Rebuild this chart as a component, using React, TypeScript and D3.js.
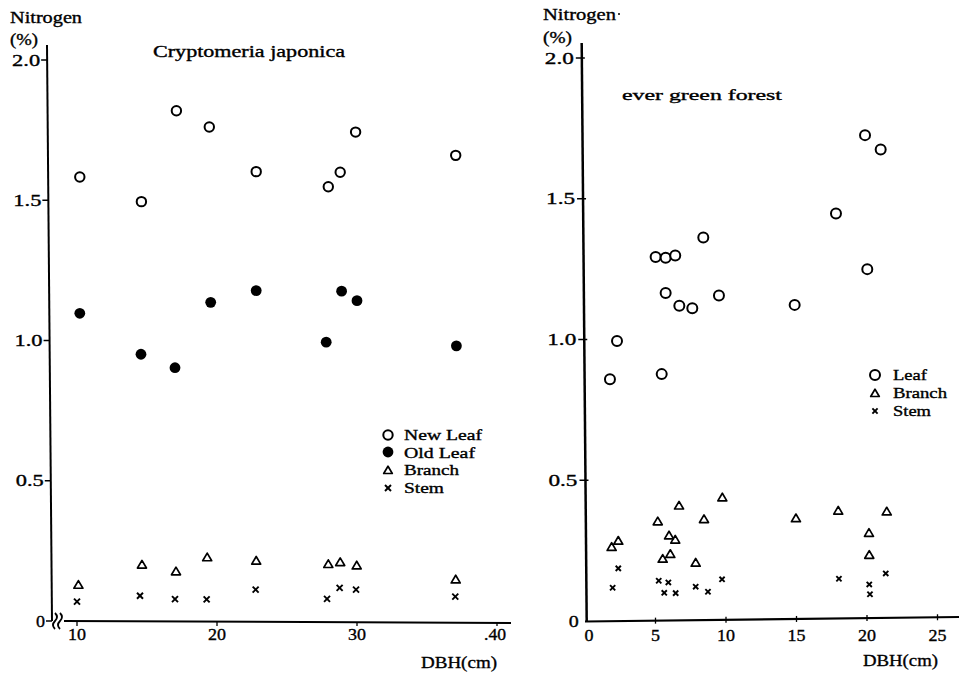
import React from "react";
import * as d3 from "d3";

// ---------- Data: Cryptomeria japonica (DBH cm, N %) ----------
const cjNewLeaf: [number, number][] = [
  [10.2, 1.583], [14.6, 1.495], [17.1, 1.819], [19.45, 1.761], [22.8, 1.602],
  [27.95, 1.548], [28.8, 1.6], [29.9, 1.743], [37.05, 1.66],
];
const cjOldLeaf: [number, number][] = [
  [10.2, 1.097], [14.57, 0.951], [17.0, 0.903], [19.55, 1.136], [22.8, 1.178],
  [27.8, 0.994], [28.9, 1.176], [30.0, 1.142], [37.1, 0.981],
];
const cjBranch: [number, number][] = [
  [10.1, 0.128], [14.64, 0.2], [17.07, 0.176], [19.3, 0.226], [22.8, 0.214],
  [27.95, 0.202], [28.8, 0.209], [29.98, 0.197], [37.05, 0.147],
];
const cjStem: [number, number][] = [
  [10.0, 0.069], [14.5, 0.09], [17.0, 0.078], [19.26, 0.077], [22.76, 0.112],
  [27.86, 0.079], [28.76, 0.118], [29.93, 0.112], [37.02, 0.087],
];

// ---------- Data: ever green forest ----------
const egLeaf: [number, number][] = [
  [19.86, 1.726], [20.97, 1.675], [17.8, 1.448], [8.39, 1.362], [5.01, 1.293],
  [5.72, 1.29], [6.4, 1.298], [20.02, 1.25], [5.72, 1.165], [6.69, 1.12],
  [7.61, 1.111], [9.5, 1.156], [14.87, 1.123], [2.27, 0.995], [1.77, 0.859],
  [5.44, 0.877],
];
const egBranch: [number, number][] = [
  [1.89, 0.262], [2.36, 0.284], [5.16, 0.353], [6.67, 0.409], [9.74, 0.438],
  [8.44, 0.361], [5.96, 0.303], [6.4, 0.288], [5.51, 0.22], [6.05, 0.237],
  [7.85, 0.206], [14.96, 0.364], [17.96, 0.391], [21.4, 0.388], [20.14, 0.312],
  [20.16, 0.234],
];
const egStem: [number, number][] = [
  [1.96, 0.118], [2.36, 0.187], [5.23, 0.143], [5.91, 0.137], [5.62, 0.1],
  [6.43, 0.099], [7.85, 0.122], [8.72, 0.104], [9.72, 0.148], [18.01, 0.15],
  [20.16, 0.13], [20.21, 0.095], [21.33, 0.169],
];

const yTicks = [0, 0.5, 1.0, 1.5, 2.0];
const yTickLabels = ["0", "0.5", "1.0", "1.5", "2.0"];
const leftXTicks = [10, 20, 30, 40];
const leftXTickLabels = ["10", "20", "30", ".40"];
const rightXTicks = [0, 5, 10, 15, 20, 25];
const rightXTickLabels = ["0", "5", "10", "15", "20", "25"];
const leftLegend = ["New Leaf", "Old Leaf", "Branch", "Stem"];
const rightLegend = ["Leaf", "Branch", "Stem"];

const FONT = "'Liberation Serif', 'DejaVu Serif', serif";

const xL = d3.scaleLinear().domain([10, 40]).range([77, 497]);
const yL = d3.scaleLinear().domain([0, 2]).range([621, 60]);
const xR = d3.scaleLinear().domain([0, 25]).range([585, 937.5]);
const yR = d3.scaleLinear().domain([0, 2]).range([621, 58]);

// slightly tilted scanned axes
const axisLX = (py: number) => 47 + ((py - 45) / (621 - 45)) * 5;
const axisRX = (py: number) => 581.7 + ((py - 43) / (621 - 43)) * 5;

const OpenCircle = ({ x, y, r = 4.7 }: { x: number; y: number; r?: number }) => (
  <circle cx={x} cy={y} r={r} fill="white" stroke="black" strokeWidth={2} />
);
const FilledCircle = ({ x, y }: { x: number; y: number }) => (
  <circle cx={x} cy={y} r={5.4} fill="black" />
);
const Triangle = ({ x, y, s = 4.5 }: { x: number; y: number; s?: number }) => {
  const p = d3.path();
  p.moveTo(x, y - s);
  p.lineTo(x + s, y + s * 0.7);
  p.lineTo(x - s, y + s * 0.7);
  p.closePath();
  return <path d={p.toString()} fill="none" stroke="black" strokeWidth={1.7} strokeLinejoin="round" />;
};
const Cross = ({ x, y, s = 3 }: { x: number; y: number; s?: number }) => (
  <g stroke="black" strokeWidth={1.9}>
    <line x1={x - s} y1={y - s} x2={x + s} y2={y + s} />
    <line x1={x - s} y1={y + s} x2={x + s} y2={y - s} />
  </g>
);

const T = (props: any) => (
  <text fontFamily={FONT} fill="black" stroke="black" strokeWidth={0.35}
        lengthAdjust="spacingAndGlyphs" {...props} />
);

export default function App() {
  const lengthsL = [78, 71, 55, 40];
  const lengthsR = [34, 54, 38];
  return (
    <div style={{ position: "absolute", left: 0, top: 0 }}>
      <svg width={959} height={673} style={{ display: "block", background: "white" }}>
        <rect width={959} height={673} fill="white" />

        {/* ================= LEFT PANEL ================= */}
        <T x={10} y={23} fontSize={17} textLength={72}>Nitrogen</T>
        <T x={10} y={45} fontSize={16} textLength={28}>(%)</T>
        <T x={153} y={57} fontSize={16} textLength={192}>Cryptomeria  japonica</T>

        {/* y axis */}
        <line x1={axisLX(45)} y1={45} x2={axisLX(621)} y2={621} stroke="black" strokeWidth={2} />
        {yTicks.map((t, i) => {
          const py = yL(t);
          const ax = axisLX(py);
          return (
            <g key={"ylt" + i}>
              <line x1={ax - 6} y1={py} x2={ax} y2={py} stroke="black" strokeWidth={1.5} />
              <T x={ax - 7} y={py + 5.5} fontSize={16.5} textAnchor="end"
                 textLength={t === 0 ? 9 : 28}>{yTickLabels[i]}</T>
            </g>
          );
        })}
        {/* x axis with break */}
        <line x1={64} y1={621} x2={511} y2={623} stroke="black" strokeWidth={2} />
        <path d="M55,613 q4,4 0,8 q-4,4 0,8 M60,613 q4,4 0,8 q-4,4 0,8" fill="none" stroke="black" strokeWidth={1.8} />
        {leftXTicks.map((t, i) => (
          <g key={"xlt" + i}>
            <line x1={xL(t)} y1={622} x2={xL(t)} y2={626} stroke="black" strokeWidth={1.3} />
            <T x={i === 3 ? xL(t) + 9 : xL(t)} y={640} fontSize={16.5}
               textAnchor={i === 3 ? "end" : "middle"} textLength={i === 3 ? 22 : 18}>{leftXTickLabels[i]}</T>
          </g>
        ))}
        <T x={421} y={668} fontSize={17} textLength={76}>DBH(cm)</T>

        {cjNewLeaf.map((d, i) => <OpenCircle key={"nl" + i} x={xL(d[0])} y={yL(d[1])} />)}
        {cjOldLeaf.map((d, i) => <FilledCircle key={"ol" + i} x={xL(d[0])} y={yL(d[1])} />)}
        {cjBranch.map((d, i) => <Triangle key={"br" + i} x={xL(d[0])} y={yL(d[1])} />)}
        {cjStem.map((d, i) => <Cross key={"st" + i} x={xL(d[0])} y={yL(d[1])} />)}

        {/* left legend */}
        <OpenCircle x={388} y={435} />
        <FilledCircle x={388} y={452} />
        <Triangle x={388} y={470.5} s={4.3} />
        <Cross x={388} y={488} />
        {leftLegend.map((s, i) => (
          <T key={"ll" + i} x={404} y={440 + i * 17.7} fontSize={15} textLength={lengthsL[i]}>{s}</T>
        ))}

        {/* ================= RIGHT PANEL ================= */}
        <T x={543} y={20} fontSize={17} textLength={73}>Nitrogen</T>
        <circle cx={619} cy={14} r={1} fill="black" />
        <T x={543} y={43} fontSize={16} textLength={29}>(%)</T>
        <T x={622} y={100} fontSize={15} textLength={160}>ever  green  forest</T>

        <line x1={axisRX(43)} y1={43} x2={axisRX(621)} y2={621} stroke="black" strokeWidth={2.5} />
        {yTicks.map((t, i) => {
          const py = yR(t);
          const ax = axisRX(py);
          return (
            <g key={"yrt" + i}>
              {t !== 0 && <line x1={ax - 6} y1={py} x2={ax + 3} y2={py} stroke="black" strokeWidth={1.5} />}
              <T x={ax - 8} y={py + 5.5} fontSize={16.5} textAnchor="end"
                 textLength={t === 0 ? 10 : 29}>{yTickLabels[i]}</T>
            </g>
          );
        })}
        <line x1={585} y1={621.5} x2={959} y2={617} stroke="black" strokeWidth={2.2} />
        {rightXTicks.map((t, i) => {
          const py = 621.5 - ((xR(t) - 585) / (959 - 585)) * 4.5;
          return (
            <g key={"xrt" + i}>
              {t !== 0 && <line x1={xR(t)} y1={py - 3} x2={xR(t)} y2={py + 3} stroke="black" strokeWidth={1.3} />}
              <T x={xR(t) + (t === 0 ? 4 : 0)} y={641} fontSize={16.5} textAnchor="middle"
                 textLength={t < 10 ? 9 : 18}>{rightXTickLabels[i]}</T>
            </g>
          );
        })}
        <T x={863} y={666} fontSize={17} textLength={75}>DBH(cm)</T>

        {egLeaf.map((d, i) => <OpenCircle key={"el" + i} x={xR(d[0])} y={yR(d[1])} r={5} />)}
        {egBranch.map((d, i) => <Triangle key={"eb" + i} x={xR(d[0])} y={yR(d[1])} />)}
        {egStem.map((d, i) => <Cross key={"es" + i} x={xR(d[0])} y={yR(d[1])} s={2.6} />)}

        {/* right legend */}
        <OpenCircle x={875} y={375} r={5} />
        <Triangle x={875} y={393.5} s={4.3} />
        <Cross x={875} y={411} s={2.6} />
        {rightLegend.map((s, i) => (
          <T key={"rl" + i} x={893} y={380 + i * 18} fontSize={15} textLength={lengthsR[i]}>{s}</T>
        ))}
      </svg>
    </div>
  );
}
